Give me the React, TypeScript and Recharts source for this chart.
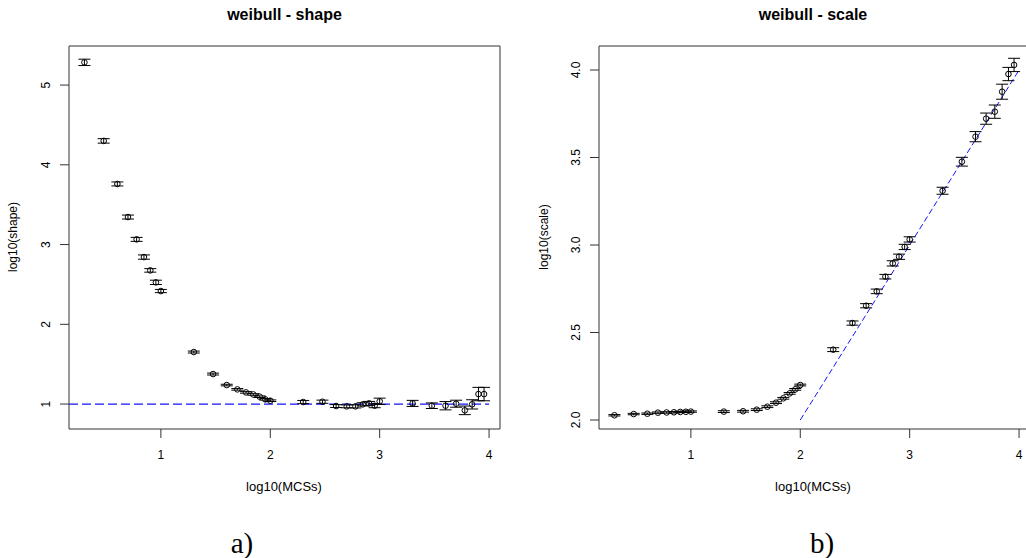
import React from 'react';
import {
  ScatterChart,
  Scatter,
  XAxis,
  YAxis,
  ErrorBar,
  ReferenceArea,
  ReferenceLine,
} from 'recharts';

// Number of MCSs per run (plotted on a log10 axis)
const mcsCounts = [
  2, 3, 4, 5, 6, 7, 8, 9, 10,
  20, 30, 40, 50, 60, 70, 80, 90, 100,
  200, 300, 400, 500, 600, 700, 800, 900, 1000,
  2000, 3000, 4000, 5000, 6000, 7000, 8000, 9000,
];

// log10(shape) estimates and their standard errors
const shapeMeans = [
  5.285, 4.3, 3.76, 3.345, 3.065, 2.843, 2.676, 2.526, 2.417,
  1.652, 1.376, 1.238, 1.184, 1.146, 1.12, 1.092, 1.059, 1.042,
  1.025, 1.029, 0.975, 0.971, 0.971, 0.996, 1.008, 0.979, 1.034,
  1.008, 0.979, 0.979, 1.004, 0.921, 0.996, 1.125, 1.125,
];
const shapeErrors = [
  0.04, 0.028, 0.025, 0.025, 0.025, 0.027, 0.022, 0.027, 0.02,
  0.012, 0.012, 0.01, 0.01, 0.01, 0.01, 0.01, 0.01, 0.01,
  0.02, 0.02, 0.018, 0.018, 0.02, 0.02, 0.025, 0.025, 0.04,
  0.038, 0.035, 0.052, 0.044, 0.054, 0.058, 0.084, 0.084,
];

// log10(scale) estimates and their standard errors
const scaleMeans = [
  2.027, 2.034, 2.036, 2.042, 2.043, 2.044, 2.046, 2.047, 2.048,
  2.048, 2.05, 2.059, 2.076, 2.099, 2.124, 2.152, 2.175, 2.2,
  2.402, 2.554, 2.653, 2.735, 2.819, 2.895, 2.933, 2.989, 3.032,
  3.31, 3.476, 3.619, 3.722, 3.762, 3.876, 3.977, 4.029,
];
const scaleErrors = [
  0.004, 0.004, 0.004, 0.004, 0.004, 0.004, 0.004, 0.004, 0.004,
  0.005, 0.005, 0.005, 0.005, 0.005, 0.005, 0.005, 0.005, 0.005,
  0.011, 0.012, 0.012, 0.013, 0.013, 0.015, 0.015, 0.015, 0.015,
  0.02, 0.025, 0.029, 0.032, 0.038, 0.043, 0.038, 0.038,
];

// Axis ranges and ticks
const xDomain: [number, number] = [0.16, 4.1];
const xTicks = [1, 2, 3, 4];
const shapeDomain: [number, number] = [0.687, 5.49];
const shapeTicks = [1, 2, 3, 4, 5];
const scaleDomain: [number, number] = [1.9486, 4.1372];
const scaleTicks = [2.0, 2.5, 3.0, 3.5, 4.0];

// Reference lines: shape -> 1, scale -> slope 1 beyond 100 MCSs
const shapeRefLine = [
  { x: 0.16, y: 1 },
  { x: 4.0, y: 1 },
];
const scaleRefLine = [
  { x: 2, y: 2 },
  { x: 4, y: 4 },
];

const shapeData = mcsCounts.map((m, i) => ({
  x: Math.log10(m),
  y: shapeMeans[i],
  err: shapeErrors[i],
}));
const scaleData = mcsCounts.map((m, i) => ({
  x: Math.log10(m),
  y: scaleMeans[i],
  err: scaleErrors[i],
}));

const FONT = '"Liberation Sans", Arial, sans-serif';

const OpenCircle = (p: any) => (
  <circle cx={p.cx} cy={p.cy} r={2.8} fill="none" stroke="#000" strokeWidth={1} />
);

const XTick = (p: any) => (
  <text
    x={p.x}
    y={p.y}
    dy={19}
    textAnchor="middle"
    fontSize={12}
    fontFamily={FONT}
    fill="#000"
  >
    {p.payload.value}
  </text>
);

const makeYTick = (digits: number) => (p: any) => (
  <text
    transform={`translate(${p.x - 8},${p.y}) rotate(-90)`}
    textAnchor="middle"
    fontSize={12}
    fontFamily={FONT}
    fill="#000"
  >
    {Number(p.payload.value).toFixed(digits)}
  </text>
);

type PanelProps = {
  data: { x: number; y: number; err: number }[];
  yDomain: [number, number];
  yTicks: number[];
  yDigits: number;
  yAxisWidth: number;
  width: number;
  rightMargin: number;
  refLine: { x: number; y: number }[];
  dash: string;
  lineWidth: number;
};

const Panel = ({
  data,
  yDomain,
  yTicks,
  yDigits,
  yAxisWidth,
  width,
  rightMargin,
  refLine,
  dash,
  lineWidth,
}: PanelProps) => (
  <ScatterChart
    width={width}
    height={558}
    margin={{ top: 46, right: rightMargin, bottom: 99, left: 0 }}
  >
    <XAxis
      type="number"
      dataKey="x"
      domain={xDomain}
      ticks={xTicks}
      allowDataOverflow
      axisLine={false}
      tickSize={9}
      tickLine={{ stroke: '#333' }}
      tick={XTick}
      height={30}
    />
    <YAxis
      type="number"
      dataKey="y"
      domain={yDomain}
      ticks={yTicks}
      allowDataOverflow
      axisLine={false}
      tickSize={9}
      tickLine={{ stroke: '#333' }}
      tick={makeYTick(yDigits)}
      width={yAxisWidth}
    />
    <ReferenceArea
      x1={xDomain[0]}
      x2={xDomain[1]}
      y1={yDomain[0]}
      y2={yDomain[1]}
      fill="none"
      fillOpacity={0}
      stroke="#333"
      strokeWidth={1}
    />
    <ReferenceLine
      segment={refLine}
      stroke="#1414ff"
      strokeWidth={lineWidth}
      strokeDasharray={dash}
    />
    <Scatter data={data} shape={OpenCircle} isAnimationActive={false}>
      <ErrorBar
        dataKey="err"
        direction="y"
        width={6}
        stroke="#000"
        strokeWidth={1}
        isAnimationActive={false}
      />
    </Scatter>
  </ScatterChart>
);

export default function App() {
  return (
    <div
      style={{
        position: 'absolute',
        left: 0,
        top: 0,
        width: 1026,
        height: 558,
        overflow: 'hidden',
        background: '#fff',
      }}
    >
      <div style={{ position: 'absolute', left: 0, top: 0 }}>
        <Panel
          data={shapeData}
          yDomain={shapeDomain}
          yTicks={shapeTicks}
          yDigits={0}
          yAxisWidth={69}
          width={513}
          rightMargin={13}
          refLine={shapeRefLine}
          dash="9 4"
          lineWidth={1.2}
        />
      </div>
      <div style={{ position: 'absolute', left: 513, top: 0 }}>
        <Panel
          data={scaleData}
          yDomain={scaleDomain}
          yTicks={scaleTicks}
          yDigits={1}
          yAxisWidth={86}
          width={521}
          rightMargin={4}
          refLine={scaleRefLine}
          dash="6 3"
          lineWidth={1}
        />
      </div>
      <svg
        width={1026}
        height={558}
        style={{ position: 'absolute', left: 0, top: 0, pointerEvents: 'none' }}
      >
        <g fontFamily={FONT} fill="#000">
          <text x={284.5} y={20} textAnchor="middle" fontSize={16} fontWeight="bold">
            weibull - shape
          </text>
          <text x={813} y={20} textAnchor="middle" fontSize={16} fontWeight="bold">
            weibull - scale
          </text>
          <text x={284} y={491} textAnchor="middle" fontSize={13}>
            log10(MCSs)
          </text>
          <text x={813} y={491} textAnchor="middle" fontSize={13}>
            log10(MCSs)
          </text>
          <text
            transform="translate(17,237) rotate(-90)"
            textAnchor="middle"
            fontSize={12}
          >
            log10(shape)
          </text>
          <text
            transform="translate(548,237) rotate(-90)"
            textAnchor="middle"
            fontSize={12}
          >
            log10(scale)
          </text>
        </g>
        <g fontFamily={'"Liberation Serif", "DejaVu Serif", serif'} fill="#000">
          <text x={242} y={553} textAnchor="middle" fontSize={29}>
            a)
          </text>
          <text x={822} y={553} textAnchor="middle" fontSize={29}>
            b)
          </text>
        </g>
      </svg>
    </div>
  );
}
